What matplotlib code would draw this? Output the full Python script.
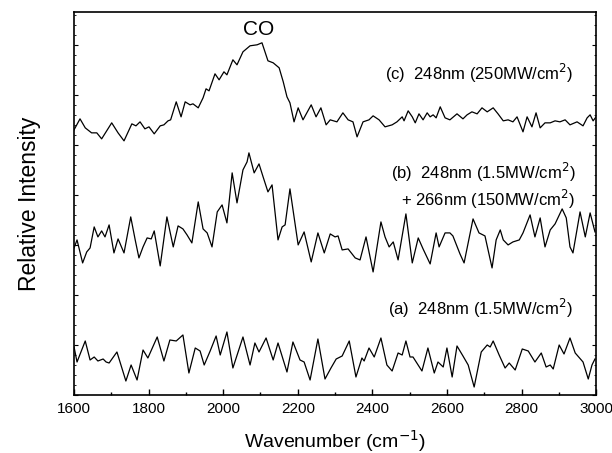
import matplotlib
matplotlib.use("Agg")
import matplotlib.pyplot as plt
from matplotlib.ticker import MultipleLocator, NullFormatter

plt.rcParams['font.family'] = ['Liberation Sans', 'DejaVu Sans']

# (c) 248nm (250MW/cm2)
wn_c = [1600, 1616, 1630, 1647, 1661, 1674, 1701, 1718, 1734, 1755, 1766, 1777, 1790, 1801, 1815,
        1831, 1841, 1852, 1859, 1874, 1887, 1898, 1911, 1919, 1933, 1946, 1954, 1962, 1978, 1989,
        2002, 2010, 2026, 2037, 2053, 2072, 2091, 2104, 2112, 2120, 2134, 2150, 2161, 2171, 2179,
        2190, 2201, 2214, 2236, 2249, 2262, 2276, 2287, 2305, 2321, 2335, 2348, 2359, 2375, 2391,
        2402, 2418, 2434, 2453, 2466, 2480, 2485, 2496, 2507, 2515, 2525, 2536, 2547, 2555, 2563,
        2571, 2582, 2595, 2608, 2627, 2643, 2654, 2667, 2681, 2694, 2708, 2724, 2737, 2751, 2764,
        2777, 2788, 2804, 2815, 2828, 2839, 2850, 2863, 2877, 2890, 2903, 2917, 2930, 2949, 2965,
        2976, 2984, 2992, 3000]
int_c = [2.65, 2.76, 2.67, 2.62, 2.62, 2.56, 2.72, 2.62, 2.54, 2.71, 2.69, 2.73, 2.66, 2.68, 2.61,
         2.69, 2.70, 2.74, 2.75, 2.93, 2.78, 2.93, 2.90, 2.91, 2.87, 2.97, 3.06, 3.04, 3.21, 3.15,
         3.23, 3.20, 3.35, 3.30, 3.43, 3.49, 3.50, 3.52, 3.43, 3.34, 3.32, 3.27, 3.13, 2.98, 2.92,
         2.73, 2.87, 2.75, 2.90, 2.78, 2.87, 2.70, 2.75, 2.73, 2.82, 2.75, 2.73, 2.58, 2.73, 2.75,
         2.79, 2.75, 2.68, 2.70, 2.73, 2.78, 2.74, 2.84, 2.78, 2.72, 2.81, 2.75, 2.82, 2.78, 2.80,
         2.77, 2.88, 2.77, 2.75, 2.81, 2.76, 2.80, 2.83, 2.81, 2.87, 2.83, 2.87, 2.81, 2.74, 2.75,
         2.73, 2.78, 2.63, 2.78, 2.68, 2.82, 2.67, 2.72, 2.72, 2.74, 2.73, 2.75, 2.70, 2.73, 2.69,
         2.77, 2.80, 2.74, 2.78]

# (b) 248nm (1.5MW/cm2) + 266nm (150MW/cm2)
wn_b = [1600, 1608, 1623, 1634, 1643, 1654, 1664, 1674, 1683, 1694, 1707, 1718, 1734, 1752, 1764,
        1774, 1785, 1796, 1807, 1815, 1831, 1849, 1866, 1879, 1892, 1903, 1916, 1933, 1946, 1957,
        1970, 1984, 1997, 2010, 2024, 2037, 2053, 2064, 2069, 2083, 2096, 2107, 2120, 2131, 2147,
        2158, 2166, 2179, 2201, 2217, 2236, 2254, 2271, 2287, 2300, 2308, 2319, 2335, 2354, 2367,
        2383, 2402, 2423, 2434, 2445, 2456, 2469, 2490, 2507, 2523, 2536, 2555, 2571, 2579, 2595,
        2608, 2616, 2635, 2646, 2670, 2686, 2702, 2721, 2732, 2743, 2751, 2764, 2777, 2794, 2804,
        2823, 2836, 2850, 2863, 2877, 2890, 2909, 2920, 2930, 2938, 2957, 2971, 2984, 2997]
int_b = [1.47, 1.55, 1.32, 1.43, 1.47, 1.68, 1.58, 1.64, 1.58, 1.70, 1.42, 1.56, 1.42, 1.78, 1.55,
         1.37, 1.48, 1.57, 1.56, 1.64, 1.29, 1.78, 1.48, 1.69, 1.66, 1.60, 1.52, 1.93, 1.66, 1.62,
         1.48, 1.83, 1.90, 1.72, 2.22, 1.92, 2.25, 2.33, 2.42, 2.22, 2.31, 2.18, 2.03, 2.10, 1.55,
         1.68, 1.70, 2.06, 1.50, 1.63, 1.33, 1.62, 1.42, 1.61, 1.58, 1.59, 1.45, 1.46, 1.37, 1.35,
         1.58, 1.23, 1.73, 1.58, 1.48, 1.53, 1.35, 1.81, 1.32, 1.57, 1.46, 1.31, 1.62, 1.48, 1.62,
         1.62, 1.59, 1.41, 1.32, 1.76, 1.62, 1.59, 1.27, 1.55, 1.65, 1.55, 1.50, 1.53, 1.55, 1.62,
         1.80, 1.58, 1.77, 1.48, 1.65, 1.71, 1.86, 1.77, 1.48, 1.42, 1.83, 1.58, 1.82, 1.63]

# (a) 248nm (1.5MW/cm2)
wn_a = [1600, 1608, 1630, 1643, 1654, 1664, 1678, 1686, 1694, 1715, 1739, 1753, 1769, 1785, 1798,
        1823, 1841, 1857, 1874, 1892, 1908, 1925, 1938, 1949, 1965, 1981, 1992, 2010, 2026, 2053,
        2072, 2085, 2096, 2115, 2134, 2147, 2171, 2187, 2206, 2217, 2233, 2254, 2273, 2289, 2303,
        2319, 2338, 2356, 2372, 2378, 2391, 2405, 2423, 2439, 2453, 2469, 2480, 2490, 2501, 2509,
        2533, 2549, 2566, 2576, 2590, 2600, 2614, 2627, 2643, 2657, 2673, 2692, 2708, 2716, 2724,
        2740, 2756, 2767, 2783, 2802, 2818, 2836, 2853, 2866, 2877, 2885, 2901, 2914, 2930, 2944,
        2965, 2979, 2989, 2997]
int_a = [0.48, 0.33, 0.54, 0.35, 0.38, 0.34, 0.36, 0.33, 0.32, 0.43, 0.14, 0.30, 0.15, 0.45, 0.37,
         0.58, 0.34, 0.55, 0.54, 0.60, 0.22, 0.47, 0.44, 0.30, 0.44, 0.59, 0.40, 0.63, 0.27, 0.58,
         0.30, 0.52, 0.43, 0.57, 0.35, 0.52, 0.23, 0.53, 0.35, 0.33, 0.15, 0.56, 0.16, 0.27, 0.36,
         0.39, 0.54, 0.18, 0.37, 0.34, 0.47, 0.38, 0.57, 0.30, 0.24, 0.42, 0.40, 0.54, 0.38, 0.38,
         0.24, 0.47, 0.22, 0.33, 0.28, 0.47, 0.18, 0.49, 0.39, 0.30, 0.08, 0.43, 0.50, 0.48, 0.54,
         0.40, 0.27, 0.32, 0.25, 0.46, 0.44, 0.33, 0.42, 0.28, 0.30, 0.26, 0.50, 0.41, 0.57, 0.42,
         0.33, 0.16, 0.30, 0.36]

x_ticks = [1600, 1800, 2000, 2200, 2400, 2600, 2800, 3000]

fig = plt.figure(figsize=(6.12, 4.53), dpi=100)
ax = fig.add_axes([0.121, 0.128, 0.853, 0.846])

for wn, it in [(wn_c, int_c), (wn_b, int_b), (wn_a, int_a)]:
    ax.plot(wn, it, color='black', lw=0.9, solid_joinstyle='round')

ax.set_xlim(1600, 3000)
ax.set_ylim(0, 3.83)
ax.set_xticks(x_ticks)
ax.xaxis.set_minor_locator(MultipleLocator(100))
ax.yaxis.set_major_locator(MultipleLocator(0.5))
ax.yaxis.set_minor_locator(MultipleLocator(0.1))
ax.yaxis.set_major_formatter(NullFormatter())
ax.tick_params(axis='x', which='major', direction='in', length=4, width=1, labelsize=11, pad=5)
ax.tick_params(axis='x', which='minor', direction='in', length=2.5, width=1)
ax.tick_params(axis='y', which='major', direction='in', length=3, width=0.8, left=True, right=True)
ax.tick_params(axis='y', which='minor', direction='in', length=1.5, width=0.6, left=True, right=True)
for s in ax.spines.values():
    s.set_linewidth(1.2)

ax.set_xlabel('Wavenumber (cm$^{-1}$)', fontsize=14, labelpad=9)
ax.set_ylabel('Relative Intensity', fontsize=16.5, labelpad=20)

ax.text(2096, 3.65, 'CO', fontsize=15, ha='center', va='center')
ax.text(2938, 3.21, '(c)  248nm (250MW/cm$^2$)', fontsize=12, ha='right', va='center')
ax.text(2944, 2.22, '(b)  248nm (1.5MW/cm$^2$)', fontsize=12, ha='right', va='center')
ax.text(2944, 1.95, '+ 266nm (150MW/cm$^2$)', fontsize=12, ha='right', va='center')
ax.text(2938, 0.87, '(a)  248nm (1.5MW/cm$^2$)', fontsize=12, ha='right', va='center')

fig.savefig('out.png', dpi=100)
